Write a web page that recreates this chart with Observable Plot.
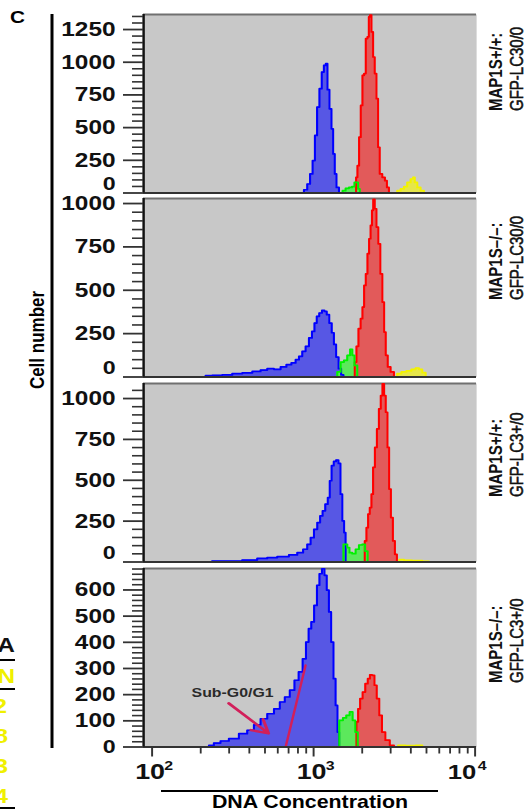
<!DOCTYPE html>
<html><head><meta charset="utf-8">
<script src="https://cdn.jsdelivr.net/npm/d3@7"></script>
<script src="https://cdn.jsdelivr.net/npm/@observablehq/plot@0.6"></script>
<style>
html,body{margin:0;padding:0;background:#fff;}
#fig{position:relative;width:434px;height:811px;transform:scaleX(1.2212);transform-origin:0 0;overflow:visible;}
#fig svg{position:absolute;left:0;overflow:visible;}
</style></head><body><div id="fig"></div>
<script>
// ---------- data ----------
const panelLetter = "C";
const yAxisTitle = "Cell number";
const xAxisTitle = "DNA Concentration";
const rowGenotype = ["MAP1S+/+:", "MAP1S–/–:", "MAP1S+/+:", "MAP1S–/–:"];
const rowTransgene = ["GFP-LC30/0", "GFP-LC30/0", "GFP-LC3+/0", "GFP-LC3+/0"];
const sideTexts = ["A", "-N", "2", "8", "3", "4"];

const xDomain = [88.6, 10217];
const panelYMax = [1365, 1029, 1092, 682];
const yMajorTicks = [
  [0, 250, 500, 750, 1000, 1250],
  [0, 250, 500, 750, 1000],
  [0, 250, 500, 750, 1000],
  [0, 100, 200, 300, 400, 500, 600]
];
const yMinorStep = [50, 50, 50, 20];
const xMajorTicks = [100, 1000, 10000];
const xMinorTicks = [200, 300, 400, 500, 600, 700, 800, 900, 2000, 3000, 4000, 5000, 6000, 7000, 8000, 9000];

// histograms: [DNA concentration, cell count]
const p1Blue = [[851,0],[892,25],[935,69],[967,146],[1005,248],[1033,440],[1069,657],[1105,798],[1141,925],[1175,976],[1204,989],[1233,790],[1274,644],[1306,491],[1336,299],[1369,146],[1402,43],[1470,0]];
const p1Red = [[1820,0],[1846,120],[1891,209],[1935,427],[1983,670],[2031,900],[2079,913],[2129,1181],[2182,1194],[2213,1347],[2254,1360],[2309,1232],[2362,1040],[2420,913],[2479,721],[2536,350],[2599,146],[2725,120],[2804,94],[2885,43],[2969,0]];
const p1Green = [[1484,0],[1540,18],[1617,36],[1695,43],[1762,49],[1820,81],[1865,81],[1908,31],[1954,0]];
const p1Yellow = [[3219,0],[3375,18],[3543,31],[3713,49],[3890,81],[4086,107],[4180,120],[4282,81],[4487,43],[4710,18],[4938,0]];

const p2Blue = [[209,0],[220,8],[253,10],[292,12],[337,20],[389,24],[448,32],[492,40],[542,48],[596,44],[655,58],[703,71],[755,81],[793,100],[831,119],[871,148],[914,177],[958,225],[996,263],[1029,311],[1063,350],[1105,369],[1148,384],[1187,378],[1226,359],[1274,311],[1317,255],[1355,188],[1402,115],[1455,48],[1506,12],[1556,0]];
const p2Red = [[1777,0],[1820,86],[1865,177],[1927,279],[1983,336],[2031,403],[2079,528],[2129,595],[2182,711],[2230,797],[2277,874],[2319,961],[2362,1024],[2420,970],[2479,864],[2551,768],[2626,595],[2702,432],[2764,259],[2831,125],[2926,58],[3071,29],[3219,0]];
const p2Green = [[1369,0],[1435,29],[1506,86],[1578,96],[1654,125],[1712,160],[1762,125],[1820,67],[1908,0]];
const p2Yellow = [[3219,0],[3375,20],[3626,29],[3890,35],[4180,44],[4387,52],[4598,44],[4820,25],[5058,0]];

const p3Blue = [[230,0],[241,6],[321,6],[407,12],[492,22],[542,27],[655,33],[755,43],[831,57],[892,78],[935,108],[982,149],[1029,200],[1079,241],[1116,282],[1158,313],[1204,354],[1244,394],[1274,497],[1311,589],[1355,615],[1402,624],[1449,603],[1484,415],[1527,252],[1562,180],[1594,0]];
const p3Red = [[2049,0],[2099,129],[2150,210],[2200,293],[2254,333],[2309,415],[2362,579],[2431,701],[2501,814],[2573,937],[2637,1018],[2702,1090],[2764,1018],[2831,916],[2901,701],[2968,446],[3053,272],[3142,129],[3233,47],[3327,0]];
const p3Green = [[1470,0],[1594,108],[1640,88],[1695,57],[1777,51],[1865,78],[1954,104],[2049,108],[2120,67],[2200,0]];
const p3Yellow = [[3327,0],[3457,14],[3802,10],[4387,8],[5058,4],[5300,0]];

const p4Blue = [[220,0],[230,6],[253,15],[278,23],[321,32],[370,51],[407,64],[448,85],[492,108],[542,127],[596,146],[640,172],[687,191],[738,217],[785,255],[831,287],[880,337],[914,401],[949,452],[986,478],[1029,541],[1069,618],[1105,662],[1148,681],[1187,656],[1226,599],[1262,516],[1306,401],[1349,261],[1388,159],[1422,57],[1455,0]];
const p4Red = [[1820,0],[1865,96],[1908,146],[1974,185],[2049,210],[2129,242],[2200,261],[2264,276],[2342,274],[2420,236],[2501,185],[2599,121],[2702,57],[2861,26],[3071,6],[3219,0]];
const p4Green = [[1402,0],[1484,102],[1556,111],[1631,121],[1712,134],[1777,102],[1846,57],[1908,0]];
const p4Yellow = [[3219,0],[3457,6],[3987,5],[4598,6],[4820,0]];

// Sub-G0/G1 annotation (data coordinates of panel 4)
const subLabel = [{x: 315, y: 207, text: "Sub-G0/G1"}];
const subArrow = [{x1: 298, y1: 167, x2: 526, y2: 52}];
const subLine = [[671, 0], [892, 312]];

const panels = [
  {blue: p1Blue, red: p1Red, green: p1Green, yellow: p1Yellow},
  {blue: p2Blue, red: p2Red, green: p2Green, yellow: p2Yellow},
  {blue: p3Blue, red: p3Red, green: p3Green, yellow: p3Yellow},
  {blue: p4Blue, red: p4Red, green: p4Green, yellow: p4Yellow}
];

// ---------- layout ----------
const S = 530 / 434;
const L = v => v / S;
const W = 434;
const FONT = "'Liberation Sans', Arial, Helvetica, sans-serif";
const panelTop = [14, 198, 383, 568];
const panelH = 178.5;
const colors = {
  blue: ["#5757e4", "#0000ff"],
  red: ["#e25a5a", "#ff0000"],
  green: ["#5ce85c", "#00f000"],
  yellow: ["#e6e64a", "#f2f200"]
};
const order = ["blue", "red", "yellow", "green"];
const crimson = "#d21f5a";
const fig = document.getElementById("fig");

panels.forEach((p, i) => {
  const mt = 16, mb = i === 3 ? 70 : 8;
  const ticks = yMajorTicks[i];
  const minor = d3.range(0, panelYMax[i] + 1e-6, yMinorStep[i]).filter(v => !ticks.includes(v));
  const marks = [
    Plot.frame({fill: "#c8c8c8", stroke: "none"}),
    Plot.ruleY([panelYMax[i]], {stroke: "#707070", strokeWidth: 2}),
    ...order.map(k => Plot.areaY(p[k], {x: d => d[0], y: d => d[1], curve: "step", fill: colors[k][0]})),
    ...order.map(k => Plot.lineY(p[k], {x: d => d[0], y: d => d[1], curve: "step", stroke: colors[k][1], strokeWidth: 1.7})),
  ];
  if (i === 3) {
    marks.push(
      Plot.line(subLine, {x: d => d[0], y: d => d[1], stroke: crimson, strokeWidth: 2}),
      Plot.arrow(subArrow, {x1: "x1", y1: "y1", x2: "x2", y2: "y2", stroke: crimson, strokeWidth: 2.5, headLength: 11}),
      Plot.text(subLabel, {x: "x", y: "y", text: "text", fontSize: 13, fontWeight: "bold", fill: "#2a2a2a"})
    );
  }
  marks.push(
    Plot.ruleY([0], {stroke: "#333", strokeWidth: 2}),
    Plot.ruleX([xDomain[0]], {stroke: "#111", strokeWidth: 2}),
    Plot.axisY({ticks: minor, tickSize: L(11), tickFormat: () => "", stroke: "#333", strokeWidth: 1.6, label: null}),
    Plot.axisY({ticks, tickSize: L(20), tickFormat: () => "", stroke: "#333", strokeWidth: 1.8, label: null}),
    Plot.text(ticks.filter(v => v !== 0), {y: d => d, text: d => String(d), frameAnchor: "left", dx: L(115 - 143), textAnchor: "end", lineAnchor: "middle", fontSize: 20, fontWeight: "bold", fill: "#111"}),
    Plot.text([0], {y: d => d, text: d => String(d), frameAnchor: "left", dx: L(115 - 143), dy: i === 3 ? 0 : -9, textAnchor: "end", lineAnchor: "middle", fontSize: 19, fontWeight: "bold", fill: "#111"})
  );
  if (i === 3) {
    marks.push(
      Plot.axisX({ticks: xMinorTicks, tickSize: 7, tickFormat: () => "", stroke: "#333", strokeWidth: 1.5, label: null}),
      Plot.axisX({ticks: xMajorTicks, tickSize: 10, tickFormat: () => "", stroke: "#333", strokeWidth: 1.6, label: null}),
      Plot.text(xMajorTicks.slice(0, 2), {x: d => d, text: d => "10", frameAnchor: "bottom", dy: 25, dx: L(-2), lineAnchor: "middle", fontSize: 22, fontWeight: "bold", fill: "#111"}),
      Plot.text(xMajorTicks.slice(2), {x: d => d, text: d => "10", frameAnchor: "bottom", dy: 25, dx: L(-13), lineAnchor: "middle", fontSize: 21, fontWeight: "bold", fill: "#111"}),
      Plot.text(xMajorTicks.slice(0, 2), {x: d => d, text: d => String(Math.round(Math.log10(d))), frameAnchor: "bottom", dy: 18.5, dx: L(16.5), lineAnchor: "middle", fontSize: 13, fontWeight: "bold", fill: "#111"}),
      Plot.text(xMajorTicks.slice(2), {x: d => d, text: d => String(Math.round(Math.log10(d))), frameAnchor: "bottom", dy: 18.5, dx: L(7), lineAnchor: "middle", fontSize: 13, fontWeight: "bold", fill: "#111"})
    );
  }
  const svg = Plot.plot({
    width: W,
    height: mt + panelH + mb,
    marginTop: mt, marginBottom: mb,
    marginLeft: L(143), marginRight: W - L(476),
    x: {type: "log", domain: xDomain, axis: null},
    y: {domain: [0, panelYMax[i]], axis: null},
    style: {background: "transparent", overflow: "visible", fontFamily: FONT},
    marks
  });
  svg.style.top = (panelTop[i] - mt) + "px";
  fig.appendChild(svg);
});

// ---------- overlay labels ----------
const ov = d3.select(fig).append("svg")
  .attr("width", W).attr("height", 811)
  .style("top", "0px").style("font-family", FONT);

ov.append("text").attr("x", L(10)).attr("y", 23).attr("font-size", 17).attr("font-weight", "bold").text(panelLetter);
ov.append("line").attr("x1", L(52)).attr("x2", L(52)).attr("y1", 14).attr("y2", 748).attr("stroke", "#000").attr("stroke-width", L(3));
ov.append("text").attr("transform", `translate(${L(44)},340) rotate(-90)`).attr("text-anchor", "middle")
  .attr("font-size", 17).attr("font-weight", "bold").text(yAxisTitle);

const rowStart = [111, 300, 497, 683];
rowGenotype.forEach((t, i) => {
  ov.append("text").attr("transform", `translate(${L(502)},${rowStart[i]}) rotate(-90)`)
    .attr("font-size", 15).attr("font-weight", "bold").attr("fill", "#111").text(t);
  ov.append("text").attr("transform", `translate(${L(523)},${rowStart[i]}) rotate(-90)`)
    .attr("font-size", 15).attr("fill", "#111").attr("stroke", "#111").attr("stroke-width", 0.45).text(rowTransgene[i]);
});

// x axis title
ov.append("line").attr("x1", L(161)).attr("x2", L(438)).attr("y1", 791).attr("y2", 791).attr("stroke", "#000").attr("stroke-width", 2);
ov.append("text").attr("x", L(310)).attr("y", 808).attr("text-anchor", "middle")
  .attr("font-size", 17.5).attr("font-weight", "bold").text(xAxisTitle);

// cut-off text at the left edge
const sideY = [652, 683, 713, 743, 773, 803];
const sideEnd = [15, 15, 7, 8, 8, 8];
sideTexts.forEach((t, i) => {
  ov.append("text").attr("x", L(sideEnd[i])).attr("y", sideY[i]).attr("text-anchor", "end")
    .attr("font-size", 20).attr("font-weight", "bold").attr("fill", i === 0 ? "#111" : "#f0f000").text(t);
});
[660, 689, 808].forEach(y => {
  ov.append("line").attr("x1", 0).attr("x2", L(15)).attr("y1", y).attr("y2", y).attr("stroke", "#000").attr("stroke-width", 2);
});
</script></body></html>
